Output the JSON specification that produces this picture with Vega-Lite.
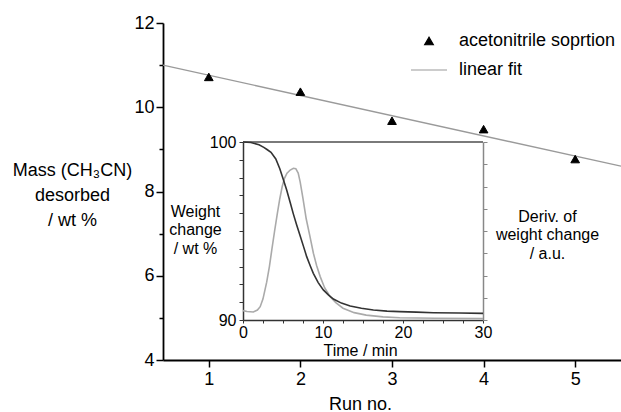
{
  "$schema": "https://vega.github.io/schema/vega-lite/v6.json",
  "width": 458,
  "height": 337,
  "autosize": {"type": "none"},
  "padding": {"left": 163, "top": 23, "right": 0, "bottom": 52},
  "background": "white",
  "config": {
    "view": {"stroke": null},
    "font": "Liberation Sans",
    "axis": {"grid": false, "labelFont": "Liberation Sans", "titleFont": "Liberation Sans", "labelColor": "black", "titleColor": "black", "titleFontWeight": "normal", "labelFlush": false, "labelOverlap": false},
    "legend": {"labelFont": "Liberation Sans"}
  },
  "datasets": {
    "runs": [
      {"run": 1, "mass": 10.72, "series": "acetonitrile soprtion"},
      {"run": 2, "mass": 10.37, "series": "acetonitrile soprtion"},
      {"run": 3, "mass": 9.68, "series": "acetonitrile soprtion"},
      {"run": 4, "mass": 9.48, "series": "acetonitrile soprtion"},
      {"run": 5, "mass": 8.77, "series": "acetonitrile soprtion"}
    ],
    "fit": [
      {"run": 0.5, "mass": 11.0},
      {"run": 5.5, "mass": 8.6}
    ],
    "border": [
      {"t0": 0, "t1": 30, "w": 100}
    ],
    "weight": [
      {"t": 0, "w": 100},
      {"t": 1, "w": 99.97},
      {"t": 2, "w": 99.84},
      {"t": 2.6, "w": 99.7},
      {"t": 3.0, "w": 99.58},
      {"t": 3.5, "w": 99.42},
      {"t": 4.1, "w": 99.05},
      {"t": 4.6, "w": 98.5},
      {"t": 5.0, "w": 97.95},
      {"t": 5.46, "w": 97.3},
      {"t": 5.9, "w": 96.6},
      {"t": 6.3, "w": 95.95},
      {"t": 6.7, "w": 95.35},
      {"t": 7.13, "w": 94.75},
      {"t": 7.55, "w": 94.15},
      {"t": 7.96, "w": 93.56},
      {"t": 8.4, "w": 93.05},
      {"t": 8.79, "w": 92.62},
      {"t": 9.4, "w": 92.1},
      {"t": 10.04, "w": 91.69},
      {"t": 10.7, "w": 91.4},
      {"t": 11.3, "w": 91.18},
      {"t": 12.3, "w": 90.95},
      {"t": 13.4, "w": 90.79},
      {"t": 14.8, "w": 90.66},
      {"t": 16.3, "w": 90.56},
      {"t": 18, "w": 90.5},
      {"t": 19.6, "w": 90.47},
      {"t": 21.7, "w": 90.44},
      {"t": 23.8, "w": 90.41},
      {"t": 27, "w": 90.39},
      {"t": 30, "w": 90.37}
    ],
    "deriv": [
      {"t": 0, "d": 0.42},
      {"t": 0.5, "d": 0.38},
      {"t": 1.3, "d": 0.36},
      {"t": 1.8, "d": 0.45},
      {"t": 2.15, "d": 0.6},
      {"t": 2.5, "d": 0.95},
      {"t": 2.96, "d": 1.7},
      {"t": 3.3, "d": 2.4},
      {"t": 3.6, "d": 3.15},
      {"t": 3.95, "d": 4.0},
      {"t": 4.3, "d": 4.8},
      {"t": 4.6, "d": 5.45},
      {"t": 4.9, "d": 6.0},
      {"t": 5.2, "d": 6.38},
      {"t": 5.5, "d": 6.6},
      {"t": 5.9, "d": 6.74},
      {"t": 6.3, "d": 6.82},
      {"t": 6.6, "d": 6.8},
      {"t": 6.9, "d": 6.6},
      {"t": 7.15, "d": 6.2},
      {"t": 7.5, "d": 5.45},
      {"t": 7.9, "d": 4.55},
      {"t": 8.4, "d": 3.7},
      {"t": 8.8, "d": 3.0},
      {"t": 9.2, "d": 2.45},
      {"t": 9.65, "d": 1.95},
      {"t": 10.2, "d": 1.45},
      {"t": 10.9, "d": 1.05},
      {"t": 11.6, "d": 0.78},
      {"t": 12.5, "d": 0.53},
      {"t": 13.9, "d": 0.33},
      {"t": 15.4, "d": 0.22},
      {"t": 17.5, "d": 0.14},
      {"t": 19.6, "d": 0.1},
      {"t": 24, "d": 0.08},
      {"t": 30, "d": 0.07}
    ]
  },
  "layer": [
    {
      "data": {"name": "fit"},
      "mark": {"type": "line", "color": "#9a9a9a", "strokeWidth": 1.3},
      "encoding": {
        "x": {"field": "run", "type": "quantitative", "scale": {"domain": [0.5, 5.5], "nice": false, "zero": false}, "axis": null},
        "y": {"field": "mass", "type": "quantitative", "scale": {"domain": [4, 12], "nice": false, "zero": false}, "axis": null}
      }
    },
    {
      "data": {"name": "runs"},
      "mark": {"type": "point", "filled": true, "strokeWidth": 1, "opacity": 1},
      "encoding": {
        "x": {
          "field": "run", "type": "quantitative",
          "scale": {"domain": [0.5, 5.5], "nice": false, "zero": false},
          "axis": {"orient": "bottom", "values": [1, 2, 3, 4, 5], "format": "d", "title": "Run no.", "titleX": 197, "titleY": 44, "titleAlign": "center", "titleBaseline": "middle", "titleFontSize": 18, "labelFontSize": 18, "labelPadding": 3, "tickSize": 7, "tickWidth": 1.5, "tickColor": "black", "domainColor": "black", "domainWidth": 1.8}
        },
        "y": {
          "field": "mass", "type": "quantitative",
          "scale": {"domain": [4, 12], "nice": false, "zero": false},
          "axis": {"orient": "left", "values": [4, 5, 6, 7, 8, 9, 10, 11, 12], "labelExpr": "datum.value % 2 == 0 ? datum.label : ''", "tickSize": {"condition": {"test": "datum.value % 2 == 0", "value": 7}, "value": 4}, "tickWidth": 1.5, "tickColor": "black", "domainColor": "black", "domainWidth": 1.8, "labelFontSize": 18, "labelPadding": 2, "title": ["Mass (CH₃CN)", "desorbed", "/ wt %"], "titleAngle": 0, "titleX": -91, "titleY": 147, "titleAlign": "center", "titleBaseline": "middle", "titleLineHeight": 25, "titleFontSize": 18}
        },
        "shape": {"field": "series", "type": "nominal", "scale": {"domain": ["acetonitrile soprtion", "linear fit"], "range": ["triangle-up", "stroke"]}, "legend": {"orient": "none", "legendX": 247, "legendY": 9, "title": null, "labelFontSize": 18, "labelColor": "black", "labelOffset": 11, "rowPadding": 1, "symbolStrokeWidth": 1.2, "labelLimit": 300, "padding": 0}},
        "fill": {"field": "series", "type": "nominal", "scale": {"domain": ["acetonitrile soprtion", "linear fit"], "range": ["black", "#9a9a9a"]}, "legend": {"orient": "none", "legendX": 247, "legendY": 9, "title": null, "labelFontSize": 18, "labelColor": "black", "labelOffset": 11, "rowPadding": 1, "symbolStrokeWidth": 1.2, "labelLimit": 300, "padding": 0}},
        "stroke": {"field": "series", "type": "nominal", "scale": {"domain": ["acetonitrile soprtion", "linear fit"], "range": ["black", "#9a9a9a"]}, "legend": {"orient": "none", "legendX": 247, "legendY": 9, "title": null, "labelFontSize": 18, "labelColor": "black", "labelOffset": 11, "rowPadding": 1, "symbolStrokeWidth": 1.2, "labelLimit": 300, "padding": 0}},
        "size": {"field": "series", "type": "nominal", "scale": {"domain": ["acetonitrile soprtion", "linear fit"], "range": [75, 1300]}, "legend": {"orient": "none", "legendX": 247, "legendY": 9, "title": null, "labelFontSize": 18, "labelColor": "black", "labelOffset": 11, "rowPadding": 1, "symbolStrokeWidth": 1.2, "labelLimit": 300, "padding": 0}}
      }
    },
    {
      "data": {"name": "border"},
      "mark": {"type": "rule", "color": "#7a7a7a", "strokeWidth": 2},
      "encoding": {
        "x": {"field": "t0", "type": "quantitative", "scale": {"domain": [0, 30], "range": [80, 320], "nice": false, "zero": false}, "axis": null},
        "x2": {"field": "t1"},
        "y": {"field": "w", "type": "quantitative", "scale": {"domain": [90, 100], "range": [297, 119], "nice": false, "zero": false}, "axis": null}
      }
    },
    {
      "data": {"name": "deriv"},
      "mark": {"type": "line", "color": "#aaaaaa", "strokeWidth": 1.6},
      "encoding": {
        "x": {"field": "t", "type": "quantitative", "scale": {"domain": [0, 30], "range": [80, 320], "nice": false, "zero": false}, "axis": null},
        "y": {
          "field": "d", "type": "quantitative",
          "scale": {"domain": [0, 8], "range": [297, 119], "nice": false, "zero": false},
          "axis": {"orient": "right", "offset": -138, "values": [0, 1, 2, 3, 4, 5, 6, 7, 8], "labels": false, "tickSize": 4, "tickColor": "#888", "domainColor": "#888", "domainWidth": 1.5, "title": ["Deriv. of", "weight change", "/ a.u."], "titleAngle": 0, "titleX": 64, "titleY": 193, "titleAlign": "center", "titleBaseline": "middle", "titleLineHeight": 18.5, "titleFontSize": 16}
        }
      }
    },
    {
      "data": {"name": "weight"},
      "mark": {"type": "line", "color": "#333333", "strokeWidth": 1.6},
      "encoding": {
        "x": {
          "field": "t", "type": "quantitative",
          "scale": {"domain": [0, 30], "range": [80, 320], "nice": false, "zero": false},
          "axis": {"orient": "bottom", "offset": -40, "values": [0, 2.5, 5, 7.5, 10, 12.5, 15, 17.5, 20, 22.5, 25, 27.5, 30], "labelExpr": "datum.value % 10 == 0 ? datum.label : ''", "tickSize": 3, "tickColor": "#333", "domainColor": "#333", "domainWidth": 1.5, "labelFontSize": 16, "labelPadding": 1, "title": "Time / min", "titleX": 197, "titleY": 30, "titleAlign": "center", "titleBaseline": "middle", "titleFontSize": 16}
        },
        "y": {
          "field": "w", "type": "quantitative",
          "scale": {"domain": [90, 100], "range": [297, 119], "nice": false, "zero": false},
          "axis": {"orient": "left", "offset": -80, "values": [90, 91, 92, 93, 94, 95, 96, 97, 98, 99, 100], "labelExpr": "datum.value == 90 || datum.value == 100 ? datum.label : ''", "tickSize": 4, "tickColor": "#333", "domainColor": "#333", "domainWidth": 1.5, "labelFontSize": 16, "labelPadding": 3, "title": ["Weight", "change", "/ wt %"], "titleAngle": 0, "titleX": -48, "titleY": 188, "titleAlign": "center", "titleBaseline": "middle", "titleLineHeight": 18.5, "titleFontSize": 16}
        }
      }
    }
  ],
  "resolve": {"scale": {"x": "independent", "y": "independent"}}
}
